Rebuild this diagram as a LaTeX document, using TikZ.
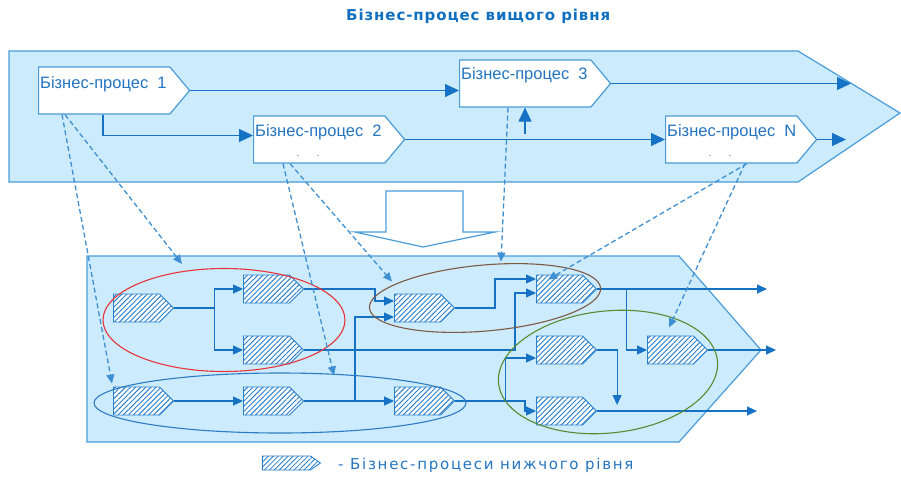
\documentclass[tikz,border=0pt]{standalone}
\usepackage{fontspec}
\setmainfont{Liberation Sans}
\newfontfamily\dejavutitle{DejaVu Sans Bold}[LetterSpace=6]
\newfontfamily\dejavulegend{DejaVu Sans}[LetterSpace=11.5]
\usetikzlibrary{shapes.arrows,shapes.symbols,shapes.geometric,patterns,patterns.meta,arrows.meta,calc}
\definecolor{panelfill}{HTML}{CCEBFC}
\definecolor{panelline}{HTML}{4A9CD8}
\definecolor{lineblue}{HTML}{1572C4}
\definecolor{hatchblue}{HTML}{2A80CC}
\definecolor{dashblue}{HTML}{3F90D2}
\definecolor{textblue}{HTML}{2474C0}
\definecolor{titleblue}{HTML}{1070C0}
\definecolor{ellred}{HTML}{E8343A}
\definecolor{ellbrown}{HTML}{7D5A44}
\definecolor{ellgreen}{HTML}{5A8A32}
\definecolor{ellblue}{HTML}{2E7BC4}
\tikzset{
  panel/.style={fill=panelfill, draw=panelline, line width=1.2pt, line join=miter},
  topbox/.style={signal, signal to=east, signal pointer angle=100, draw=panelline, fill=white,
    line width=1.2pt, minimum width=151pt, minimum height=47pt, inner sep=0pt, anchor=west},
  subbox/.style={signal, signal to=east, signal pointer angle=90, draw=hatchblue, line width=0.9pt,
    minimum width=60pt, minimum height=28pt, inner sep=0pt, anchor=west,
    preaction={fill=white}, pattern={Lines[angle=45,distance=3.6pt,line width=0.95pt]}, pattern color=hatchblue},
  bptext/.style={font=\fontsize{16.5}{18}\selectfont, text=textblue, inner sep=0pt, anchor=west},
  toparr/.style={draw=lineblue, line width=1.1pt, -{Triangle[length=14pt,width=13pt]}},
  arr/.style={draw=lineblue, line width=1.1pt, -{Triangle[length=10pt,width=9pt]}},
  sline/.style={draw=lineblue, line width=1.1pt},
  dasharr/.style={draw=dashblue, line width=1.3pt, dash pattern=on 5pt off 3pt, -{Triangle[length=9pt,width=8pt]}},
  grp/.style={ellipse, draw=#1, line width=1.1pt, inner sep=0pt},
}
\begin{document}
\begin{tikzpicture}[x=1pt, y=-1pt]
\path[use as bounding box] (0,0) rectangle (901,477);
% title
\node[font=\dejavutitle\fontsize{15}{17}\selectfont, text=titleblue, anchor=west, inner sep=0pt] (title) at (346,16) {Бізнес-процес вищого рівня};
% top panel
\path[panel] (9,51) -- (798,51) -- (900,113) -- (798,182) -- (9,182) -- cycle;
% top boxes
\node[topbox] (bp1) at (38,90.5) {};
\node[topbox] (bp2) at (253,139.5) {};
\node[topbox] (bp3) at (459,83.5) {};
\node[topbox] (bpn) at (665,139.5) {};
\node[bptext] (t1) at ($(bp1.west)+(2,-6)$) {Бізнес-процес\ \ 1};
\node[bptext] (t2) at ($(bp2.west)+(2,-7)$) {Бізнес-процес\ \ 2};
\node[bptext] (t3) at ($(bp3.west)+(2,-8)$) {Бізнес-процес\ \ 3};
\node[bptext] (tn) at ($(bpn.west)+(2,-7)$) {Бізнес-процес\ \ N};
\node[text=textblue, font=\fontsize{10}{10}\selectfont, inner sep=0pt] (dots2) at (308,156) {.\hspace{17pt}.};
\node[text=textblue, font=\fontsize{10}{10}\selectfont, inner sep=0pt] (dotsn) at (720,156) {.\hspace{17pt}.};
\coordinate (out3) at (851,83.5);
\coordinate (outN) at (846,139.5);
% top connectors
\draw[toparr] (bp1.east) -- (bp3.west |- bp1.east);
\draw[toparr] (bp1.south west) ++(65,0) |- ($(bp2.west)+(0,-4)$);
\draw[toparr] (bp2.east) -- (bpn.west);
\draw[toparr] ($(bp3.south west)+(66,26)$) -- ($(bp3.south west)+(66,0)$);
\draw[toparr] (bp3.east) -- (out3);
\draw[toparr] (bpn.east) -- (outN);
% big down arrow
\path[draw=panelline, fill=white, line width=1.2pt] (386,191) -- (463,191) -- (463,232) -- (495,232) -- (423,247) -- (355,232) -- (386,232) -- cycle;
% lower panel
\path[panel] (87,256) -- (679,256) -- (761,350) -- (679,442) -- (87,442) -- cycle;
% coordinates
\coordinate (outc2) at (767,289);
\coordinate (oute) at (776,350);
\coordinate (outd2) at (757,411);
% lower boxes
\node[subbox] (a1) at (113,308) {};
\node[subbox] (a2) at (243,289) {};
\node[subbox] (a3) at (243,350) {};
\node[subbox] (b1) at (113,401) {};
\node[subbox] (b2) at (243,401) {};
\node[subbox] (b3) at (394,401) {};
\node[subbox] (c1) at (394,308) {};
\node[subbox] (c2) at (536,289) {};
\node[subbox] (d1) at (536,350) {};
\node[subbox] (d2) at (536,411) {};
\node[subbox] (e) at (647,350) {};
% lower connectors
\coordinate (j1) at ($(a1.east)+(40,0)$);
\draw[sline] (a1.east) -- (j1);
\draw[arr] (j1) |- (a2.west);
\draw[arr] (j1) |- (a3.west);
\draw[arr] (a2.east) -| ($(c1.west)+(-19,-7)$) -- ($(c1.west)+(0,-7)$);
\draw[arr] (b1.east) -- (b2.west);
\draw[arr] (b2.east) -- (b3.west);
\draw[arr] ($(b3.west)+(-39,0)$) |- ($(c1.west)+(0,9)$);
\draw[arr] (a3.east) -| ($(c2.west)+(-21,4)$) -- ($(c2.west)+(0,4)$);
\draw[arr] (c1.east) -| ($(c2.west)+(-41,-10)$) -- ($(c2.west)+(0,-10)$);
\draw[arr] (b3.east) -| ($(d2.west)+(-11,0)$) -- (d2.west);
\draw[arr] ($(b3.east)+(50,0)$) |- ($(d1.west)+(0,8)$);
\draw[arr] (c2.east) -- (outc2);
\draw[arr] ($(c2.east)+(29,0)$) |- (e.west);
\draw[arr] (d1.east) -| ($(d2.east)+(20,-6)$);
\draw[arr] (d2.east) -- (outd2);
\draw[arr] (e.east) -- (oute);
% group ellipses
\node[grp=ellred, minimum width=242pt, minimum height=103pt] (gred) at (224,320) {};
\node[grp=ellblue, minimum width=372pt, minimum height=60pt] (gblue) at (280,403) {};
\node[grp=ellbrown, minimum width=232pt, minimum height=66pt, rotate=5] (gbrown) at (485,298) {};
\node[grp=ellgreen, minimum width=220pt, minimum height=122pt, rotate=6] (ggreen) at (608,372) {};
% dashed links
\draw[dasharr] ($(bp1.south west)+(24,0)$) -- ($(b1.north west)+(-1,-3)$);
\draw[dasharr] ($(bp1.south west)+(27,0)$) -- ($(gred.north)+(-42,-4)$);
\draw[dasharr] ($(bp2.south west)+(30,0)$) -- ($(gblue.north)+(54,3)$);
\draw[dasharr] ($(bp2.south west)+(37,0)$) -- ($(c1.north west)+(-2,-12)$);
\draw[dasharr] ($(bp3.south west)+(49,0)$) -- ($(c2.north west)+(-35,-13)$);
\draw[dasharr] ($(bpn.south west)+(82,0)$) -- ($(c2.north west)+(12,5)$);
\draw[dasharr] ($(bpn.south west)+(80,0)$) -- ($(e.north west)+(22,-8)$);
% legend
\node[subbox, minimum width=58pt, minimum height=14pt, signal pointer angle=70,
  pattern={Lines[angle=45,distance=3.5pt,line width=0.8pt]}] (leg) at (262,463) {};
\node[font=\dejavulegend\fontsize{15}{17}\selectfont, text=textblue, anchor=west, inner sep=0pt] (legt) at (338,465) {- Бізнес-процеси нижчого рівня};
\end{tikzpicture}
\end{document}
